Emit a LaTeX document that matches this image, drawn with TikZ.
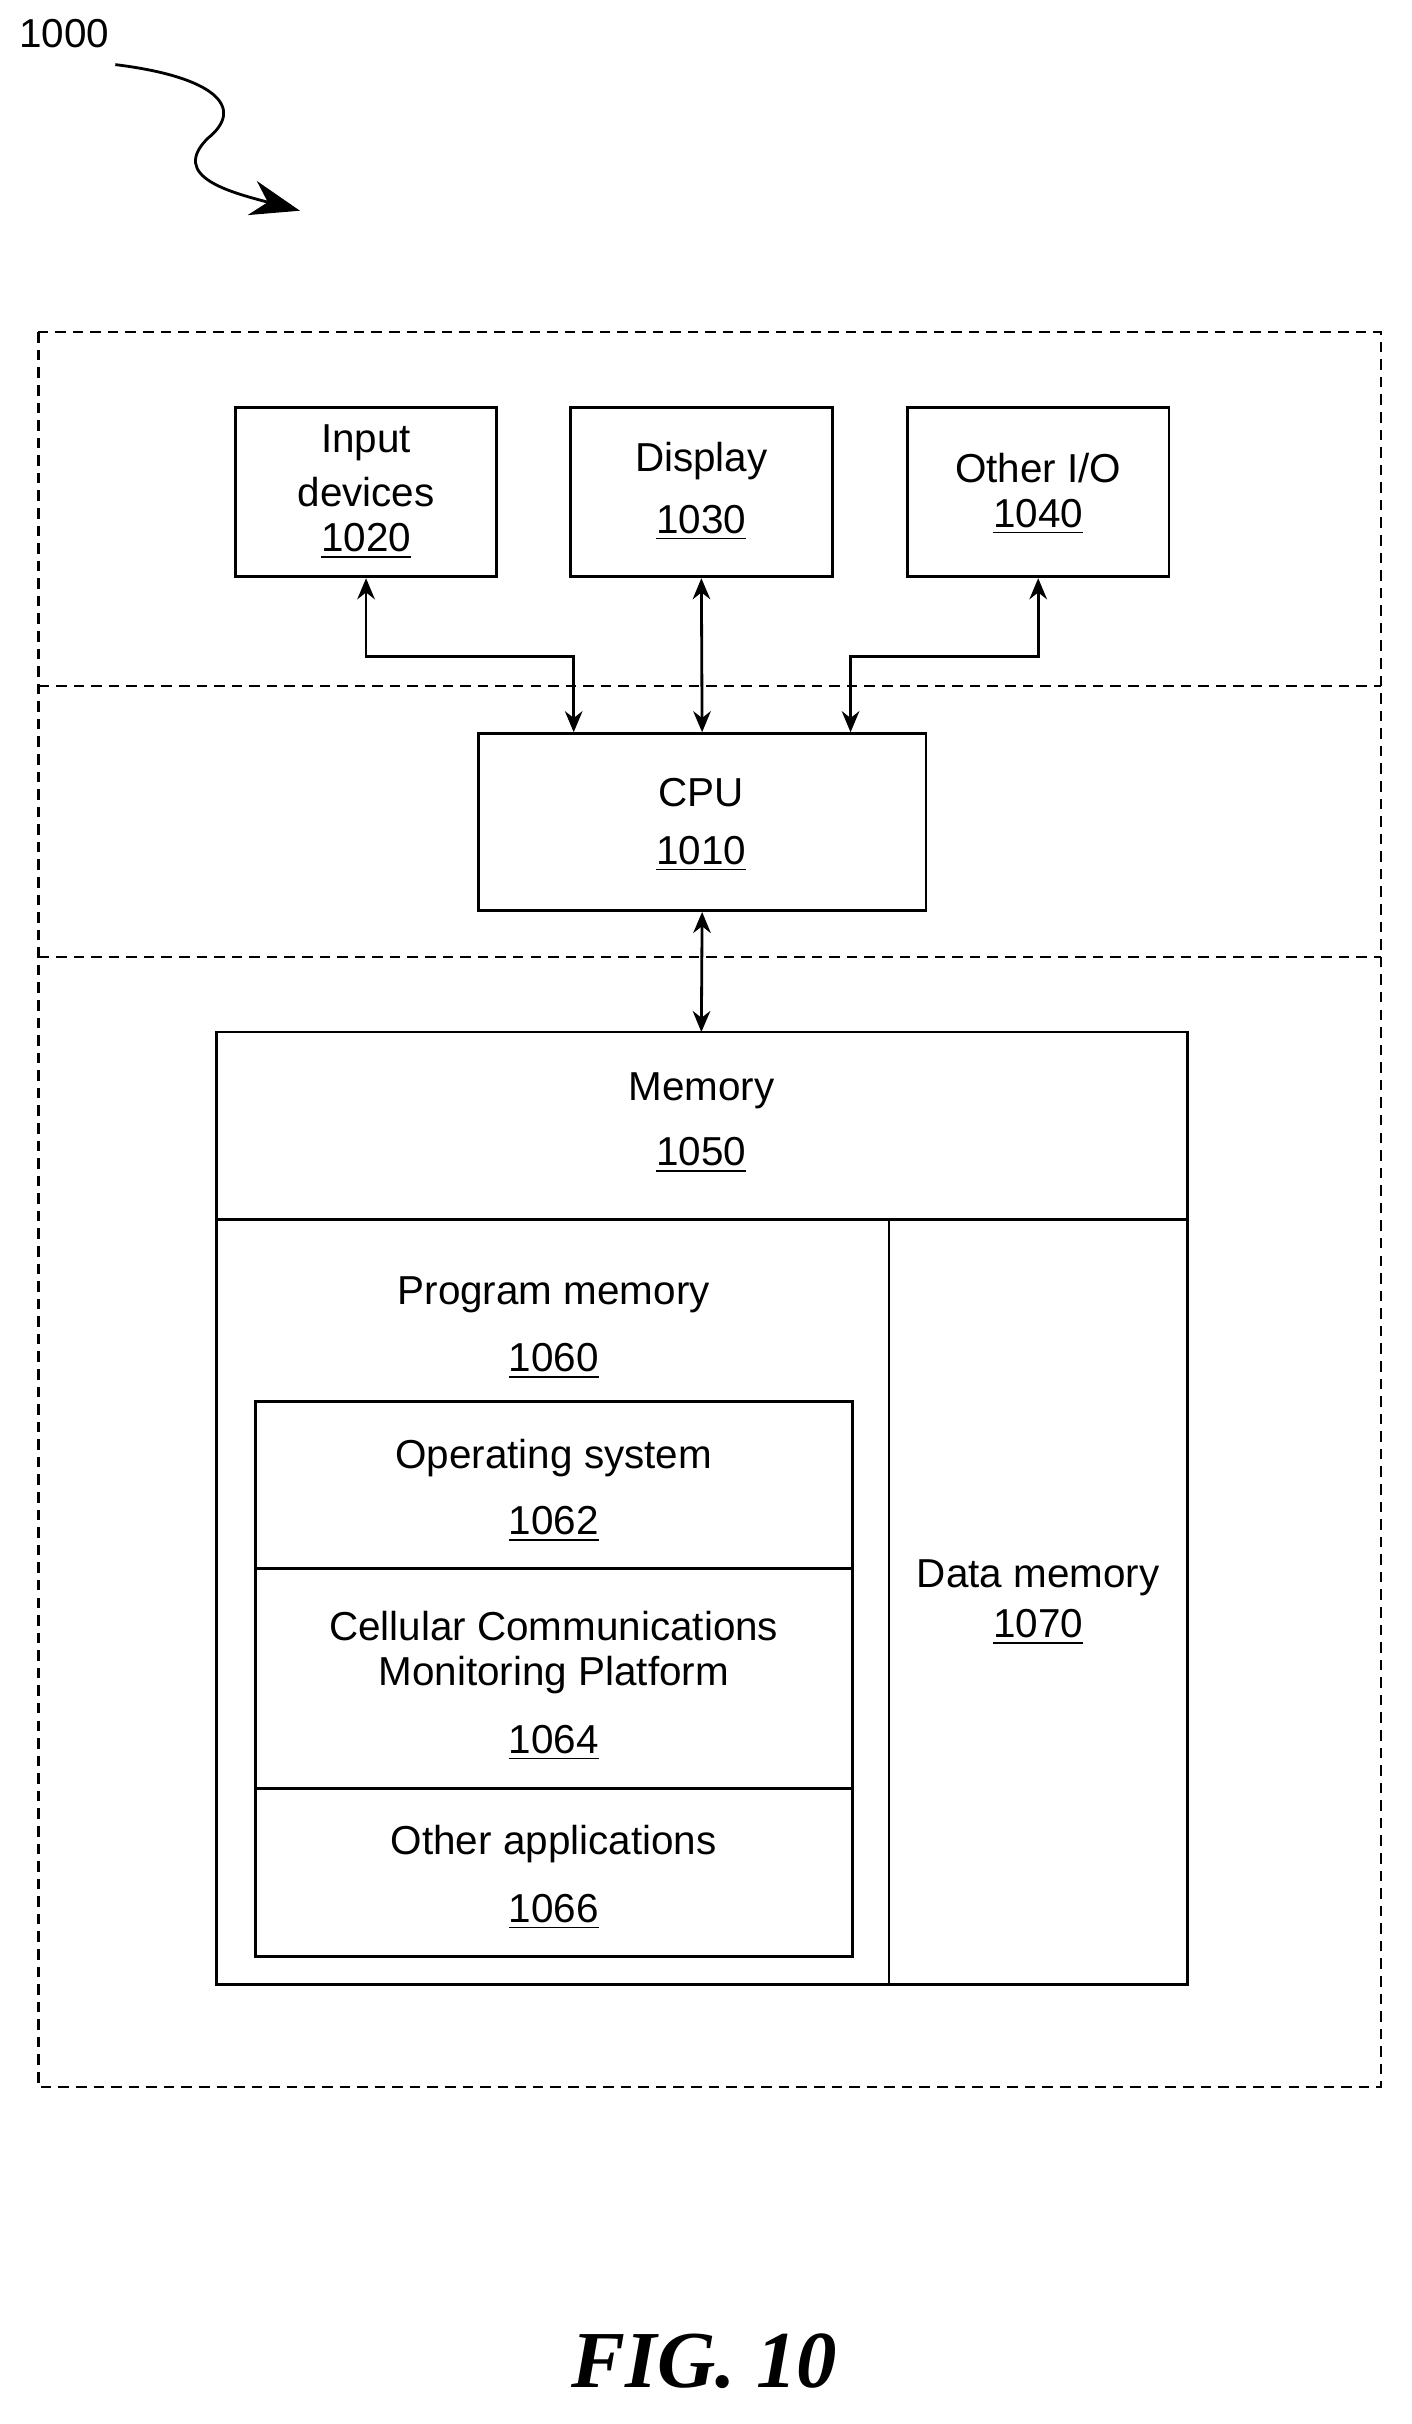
\documentclass[tikz,border=0pt]{standalone}
\usepackage{fontspec}
\setmainfont{Liberation Sans}
\newfontfamily\figfont{Liberation Serif}
\usetikzlibrary{positioning,calc,arrows.meta}

\tikzset{
  box/.style={draw, line width=0.8pt, inner sep=0pt},
  txt/.style={font=\fontsize{11.5}{14}\selectfont, align=center, inner sep=0pt},
  region/.style={draw, densely dashed, line width=0.6pt},
  link/.style={line width=0.8pt, {Stealth[length=6pt,width=5pt]}-{Stealth[length=6pt,width=5pt]}}
}

\begin{document}
\begin{tikzpicture}[x=0.01538cm,y=-0.01538cm]
  \useasboundingbox (0,0) rectangle (918,1576);

  % figure label
  \node[txt, anchor=west] (ref) at (12,22) {1000};
  \draw[line width=0.8pt, -{Stealth[length=14pt,width=10pt]}] (75,42)
    .. controls (140,50) and (160,70) .. (135,90)
    .. controls (110,115) and (150,125) .. (195,137);

  % regions
  \draw[region] (25,216) rectangle (898,1357);
  \draw[region] (25,446) -- (898,446);
  \draw[region] (25,622) -- (898,622);

  % I/O boxes
  \node[box, minimum width=2.615cm, minimum height=1.692cm] (in) at (238,320) {};
  \node[box, minimum width=2.615cm, minimum height=1.692cm] (disp) at (456,320) {};
  \node[box, minimum width=2.615cm, minimum height=1.692cm] (oio) at (675,320) {};
  \node[txt] at (238,288) {Input};
  \node[txt] at (238,320) {devices};
  \node[txt] at (238,352) {\underline{1020}};
  \node[txt] at (456,300) {Display};
  \node[txt] at (456,340) {\underline{1030}};
  \node[txt] at (675,304) {Other I/O};
  \node[txt] at (675,336) {\underline{1040}};

  % CPU
  \node[box, minimum width=4.476cm, minimum height=1.769cm] (cpu) at (456.5,534.5) {};
  \node[txt] at (456,515) {CPU};
  \node[txt] at (456,555) {\underline{1010}};

  \draw[link] (in.south) |- (373,427) -- (cpu.north -| 373,0);
  \draw[link] (disp.south) -- (cpu.north);
  \draw[link] (oio.south) |- (553,427) -- (cpu.north -| 553,0);

  % memory
  \draw[line width=0.8pt] (141,671) rectangle (772,1290);
  \coordinate (mem) at (456,671);
  \draw[line width=0.8pt] (141,793) -- (772,793);
  \draw[line width=0.8pt] (578,793) -- (578,1290);
  \draw[link] (cpu.south) -- (mem);
  \node[txt] at (456,709) {Memory};
  \node[txt] at (456,751) {\underline{1050}};

  \node[txt] at (360,842) {Program memory};
  \node[txt] at (360,885) {\underline{1060}};
  \draw[line width=0.8pt] (166,911) rectangle (554,1272);
  \draw[line width=0.8pt] (166,1020) -- (554,1020);
  \draw[line width=0.8pt] (166,1163) -- (554,1163);
  \node[txt] at (360,948) {Operating system};
  \node[txt] at (360,991) {\underline{1062}};
  \node[txt] at (360,1057) {Cellular Communications};
  \node[txt] at (360,1089) {Monitoring Platform};
  \node[txt] at (360,1133) {\underline{1064}};
  \node[txt] at (360,1199) {Other applications};
  \node[txt] at (360,1243) {\underline{1066}};

  \node[txt] at (675,1026) {Data memory};
  \node[txt] at (675,1058) {\underline{1070}};

  \node[inner sep=0pt, font=\figfont\bfseries\itshape\fontsize{23}{26}\selectfont] (fig) at (458,1535) {FIG. 10};
\end{tikzpicture}
\end{document}
